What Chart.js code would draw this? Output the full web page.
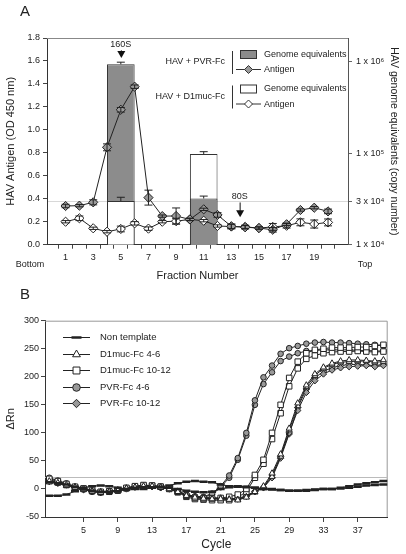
<!DOCTYPE html>
<html lang="en">
<head>
<meta charset="UTF-8">
<title>HAV gradient and real-time PCR</title>
<script src="https://cdn.jsdelivr.net/npm/chart.js"></script>
<style>
  * { margin: 0; padding: 0; box-sizing: border-box; }
  body { background: #fff; width: 406px; height: 554px; overflow: hidden; position: relative; }
  canvas { position: absolute; left: 0; }
  #chartA { top: 0; }
  #chartB { top: 280px; }
</style>
</head>
<body>
<canvas id="chartA" width="406" height="284"></canvas>
<canvas id="chartB" width="406" height="274"></canvas>
<script>
// ---------- Panel A: sucrose gradient fractions ----------
const fractions = [1, 2, 3, 4, 5, 6, 7, 8, 9, 10, 11, 12, 13, 14, 15, 16, 17, 18, 19, 20];
const antigenPVR    = [0.337, 0.34, 0.369, 0.848, 1.175, 1.376, 0.41, 0.249, 0.25, 0.22, 0.308, 0.259, 0.16, 0.152, 0.145, 0.13, 0.178, 0.302, 0.322, 0.29];
const antigenPVRErr = [0.015, 0.01, 0.022, 0.03, 0.02, 0.015, 0.065, 0.01, 0.07, 0.01, 0.01, 0.02, 0.02, 0.015, 0.01, 0.02, 0.01, 0.01, 0.01, 0.02];
const antigenD1     = [0.2, 0.23, 0.143, 0.113, 0.137, 0.186, 0.14, 0.2, 0.205, 0.22, 0.209, 0.163, 0.158, 0.155, 0.145, 0.155, 0.165, 0.195, 0.18, 0.194];
const antigenD1Err  = [0.01, 0.02, 0.01, 0.01, 0.025, 0.015, 0.015, 0.01, 0.025, 0.01, 0.01, 0.01, 0.02, 0.015, 0.01, 0.03, 0.02, 0.03, 0.035, 0.03];

const genomeFractions = [5, 11];
const genomePVR    = [9.4e5, 3.2e4];
const genomePVRErr = [5e4, 2e3];
const genomeD1     = [3.0e4, 9.8e4];
const genomeD1Err  = [3e3, 6e3];

const genomeTicks = [1e4, 3e4, 1e5, 1e6];
const genomeTickLabels = ['1 x 10\u2074', '3 x 10\u2074', '1 x 10\u2075', '1 x 10\u2076'];

// sedimentation markers: label position and arrow tip on the antigen scale
const sedMarkers = [
  { label: '160S', fraction: 5, textAt: 1.745, tip: 1.625 },
  { label: '80S', fraction: 13.6, textAt: 0.42, tip: 0.24 }
];

// ---------- Panel B: real-time PCR ----------
const cycles = [1, 2, 3, 4, 5, 6, 7, 8, 9, 10, 11, 12, 13, 14, 15, 16, 17, 18, 19, 20,
  21, 22, 23, 24, 25, 26, 27, 28, 29, 30, 31, 32, 33, 34, 35, 36, 37, 38, 39, 40];
const cycleTicks = [5, 9, 13, 17, 21, 25, 29, 33, 37];
const threshold = 22;

const nonTemplate1 = [-12, -12, -10, -4, 2, 5, 6, 5, 2, 0, 0, 0, 2, 4, 6, 10, 13, 14, 13, 12,
  8, 5, 5, 4, 2, 0, 0, -2, -3, -3, -3, -2, 0, 0, 2, 5, 8, 10, 12, 14];
const nonTemplate2 = [12, 10, 8, 4, 0, -3, -5, -5, -4, -1, 2, 3, 3, 3, 2, 0, -3, -5, -6, -5,
  0, 3, 4, 3, 2, 0, -1, -2, -3, -3, -2, -1, 0, 0, 1, 2, 4, 6, 7, 8];
const d1muc46a = [14, 11, 7, 3, 0, -4, -6, -5, -3, 1, 3, 5, 5, 3, 0, -5, -12, -15, -17, -18,
  -18, -19, -20, -15, -5, 5, 28, 62, 108, 153, 185, 205, 217, 224, 228, 230, 230, 229, 228, 230];
const d1muc46b = [12, 10, 6, 2, -1, -4, -5, -4, -2, 1, 3, 4, 4, 3, 0, -5, -11, -14, -16, -17,
  -17, -18, -19, -14, -6, 3, 22, 58, 105, 148, 182, 202, 215, 222, 226, 227, 228, 228, 226, 227];
const d1muc1012a = [18, 14, 9, 4, 1, -3, -5, -4, -2, 2, 5, 7, 6, 4, 1, -5, -12, -16, -17, -17,
  -16, -14, -10, 0, 25, 52, 100, 150, 198, 227, 242, 248, 250, 252, 252, 252, 253, 253, 255, 257];
const d1muc1012b = [15, 12, 7, 3, 0, -4, -6, -5, -3, 1, 4, 6, 6, 4, 0, -6, -14, -18, -19, -20,
  -20, -20, -15, -5, 20, 45, 89, 135, 183, 215, 232, 238, 242, 244, 245, 245, 246, 245, 244, 245];
const pvr46a = [20, 15, 10, 4, 0, -4, -6, -5, -3, 1, 4, 6, 6, 4, 1, -4, -10, -13, -14, -8,
  5, 24, 55, 100, 158, 199, 220, 241, 251, 255, 259, 261, 262, 261, 261, 260, 259, 258, 257, 256];
const pvr46b = [16, 12, 8, 3, -1, -5, -6, -4, -2, 2, 5, 6, 5, 3, 0, -5, -11, -14, -15, -10,
  3, 20, 52, 95, 150, 187, 208, 228, 236, 242, 246, 247, 248, 248, 248, 248, 247, 247, 246, 246];
const pvr1012a = [16, 12, 8, 4, 0, -3, -5, -5, -3, 0, 3, 5, 5, 3, 1, -4, -10, -13, -15, -16,
  -16, -17, -17, -12, -4, 3, 25, 58, 100, 140, 172, 193, 205, 212, 216, 218, 219, 220, 218, 220];
const pvr1012b = [13, 10, 7, 3, -1, -4, -6, -5, -2, 1, 4, 5, 4, 2, 0, -5, -11, -14, -16, -17,
  -17, -18, -18, -13, -5, 2, 20, 55, 98, 145, 178, 198, 210, 216, 220, 222, 222, 221, 220, 222];

const FONT = "'Liberation Sans', Arial, sans-serif";
Chart.defaults.font.family = FONT;
Chart.defaults.color = '#222';

// error bars for datasets that carry an `errors` array
const errorBars = {
  id: 'errorBars',
  afterDatasetsDraw(chart) {
    const ctx = chart.ctx;
    ctx.save();
    ctx.strokeStyle = '#222';
    ctx.lineWidth = 1;
    chart.data.datasets.forEach((ds, i) => {
      if (!ds.errors) return;
      const ys = chart.scales[ds.yAxisID];
      chart.getDatasetMeta(i).data.forEach((el, j) => {
        const e = ds.errors[j];
        if (e == null) return;
        const v = ds.data[j].y;
        const top = ys.getPixelForValue(v + e);
        const bot = ds.upperOnly ? el.y : ys.getPixelForValue(v - e);
        ctx.beginPath();
        ctx.moveTo(el.x, top); ctx.lineTo(el.x, bot);
        ctx.moveTo(el.x - 4, top); ctx.lineTo(el.x + 4, top);
        if (!ds.upperOnly) { ctx.moveTo(el.x - 4, bot); ctx.lineTo(el.x + 4, bot); }
        ctx.stroke();
      });
    });
    ctx.restore();
  }
};

// frame line on top of panel A plus texts around it
const decorA = {
  id: 'decorA',
  beforeDatasetsDraw(chart) {
    const { ctx, chartArea: a } = chart;
    ctx.save();
    ctx.strokeStyle = '#888';
    ctx.lineWidth = 1;
    ctx.beginPath();
    ctx.moveTo(a.left, a.top + 0.5); ctx.lineTo(a.right, a.top + 0.5);
    ctx.stroke();
    ctx.restore();
  },
  afterDraw(chart) {
    const { ctx, chartArea: a, scales } = chart;
    ctx.save();
    ctx.fillStyle = '#222';
    ctx.font = '15px ' + FONT;
    ctx.textBaseline = 'middle';
    ctx.fillText('A', 20, 12);
    ctx.font = '9px ' + FONT;
    ctx.textAlign = 'center';
    ctx.fillText('Bottom', 30, 265);
    ctx.fillText('Top', 365, 265);

    // sedimentation markers
    sedMarkers.forEach(m => {
      const x = scales.x.getPixelForValue(m.fraction);
      const ty = scales.y.getPixelForValue(m.textAt);
      const tip = scales.y.getPixelForValue(m.tip);
      ctx.fillStyle = '#222';
      ctx.fillText(m.label, x, ty);
      ctx.strokeStyle = '#111';
      ctx.beginPath();
      ctx.moveTo(x + 0.5, ty + 6); ctx.lineTo(x + 0.5, tip - 6);
      ctx.stroke();
      ctx.fillStyle = '#111';
      ctx.beginPath();
      ctx.moveTo(x - 3.5, tip - 7); ctx.lineTo(x + 4.5, tip - 7); ctx.lineTo(x + 0.5, tip);
      ctx.closePath();
      ctx.fill();
    });

    // legend
    const groups = [
      { title: 'HAV + PVR-Fc', fill: '#8c8c8c', mark: '#9a9a9a' },
      { title: 'HAV + D1muc-Fc', fill: '#ffffff', mark: '#ffffff' }
    ];
    groups.forEach((g, k) => {
      const y0 = a.top + k * 34.5;
      ctx.textAlign = 'right';
      ctx.fillStyle = '#222';
      ctx.fillText(g.title, 225, y0 + 24);
      ctx.strokeStyle = '#333';
      ctx.beginPath();
      ctx.moveTo(232.5, y0 + 13); ctx.lineTo(232.5, y0 + 36);
      ctx.stroke();
      ctx.fillStyle = g.fill;
      ctx.fillRect(240, y0 + 12, 16, 8);
      ctx.strokeRect(240.5, y0 + 12.5, 16, 8);
      ctx.beginPath();
      ctx.moveTo(236, y0 + 31.5); ctx.lineTo(261, y0 + 31.5);
      ctx.stroke();
      ctx.fillStyle = g.mark;
      ctx.beginPath();
      ctx.moveTo(248.5, y0 + 27.5); ctx.lineTo(252.5, y0 + 31.5);
      ctx.lineTo(248.5, y0 + 35.5); ctx.lineTo(244.5, y0 + 31.5);
      ctx.closePath();
      ctx.fill(); ctx.stroke();
      ctx.textAlign = 'left';
      ctx.fillStyle = '#222';
      ctx.fillText('Genome equivalents', 264, y0 + 16.5);
      ctx.fillText('Antigen', 264, y0 + 32);
    });
    ctx.restore();
  }
};

// bars overlap at each fraction: the taller one is drawn behind
const backBars = [], frontBars = [], backColors = [], frontColors = [], backErr = [], frontErr = [];
genomeFractions.forEach((f, i) => {
  const pvrTall = genomePVR[i] > genomeD1[i];
  backBars.push({ x: f, y: pvrTall ? genomePVR[i] : genomeD1[i] });
  frontBars.push({ x: f, y: pvrTall ? genomeD1[i] : genomePVR[i] });
  backErr.push(pvrTall ? genomePVRErr[i] : genomeD1Err[i]);
  frontErr.push(pvrTall ? genomeD1Err[i] : genomePVRErr[i]);
  backColors.push(pvrTall ? '#8c8c8c' : '#ffffff');
  frontColors.push(pvrTall ? '#ffffff' : '#8c8c8c');
});

const barStyle = { type: 'bar', yAxisID: 'y1', grouped: false, borderColor: '#333', borderWidth: 1,
  categoryPercentage: 2, barPercentage: 1, upperOnly: true };
const lineStyle = { type: 'line', yAxisID: 'y', borderColor: '#222', borderWidth: 1, tension: 0,
  pointStyle: 'rectRot', pointRadius: 4.6, pointBorderColor: '#222', pointBorderWidth: 1 };

new Chart(document.getElementById('chartA'), {
  type: 'bar',
  data: {
    datasets: [
      Object.assign({}, lineStyle, { label: 'Antigen PVR-Fc', order: 1, pointBackgroundColor: '#9a9a9a',
        data: fractions.map((f, i) => ({ x: f, y: antigenPVR[i] })), errors: antigenPVRErr }),
      Object.assign({}, lineStyle, { label: 'Antigen D1muc-Fc', order: 2, pointBackgroundColor: '#ffffff',
        data: fractions.map((f, i) => ({ x: f, y: antigenD1[i] })), errors: antigenD1Err }),
      Object.assign({}, barStyle, { label: 'Genome (front)', order: 3, backgroundColor: frontColors,
        data: frontBars, errors: frontErr }),
      Object.assign({}, barStyle, { label: 'Genome (back)', order: 4, backgroundColor: backColors,
        data: backBars, errors: backErr })
    ]
  },
  options: {
    responsive: false,
    animation: false,
    layout: { padding: { top: 38 } },
    plugins: { legend: { display: false }, tooltip: { enabled: false } },
    scales: {
      x: {
        type: 'linear', min: 0.2, max: 20.9,
        afterBuildTicks: s => { s.ticks = fractions.map(v => ({ value: v })); },
        afterFit: s => { s.height = 39.3; },
        grid: { drawOnChartArea: false, tickLength: 4, tickColor: '#444' },
        border: { color: '#333' },
        ticks: { autoSkip: false, maxRotation: 0, padding: 3, font: { size: 9 },
          callback: v => (v % 2 === 1 ? v : '') },
        title: { display: true, text: 'Fraction Number', font: { size: 11 }, padding: { top: 0, bottom: 1 } }
      },
      y: {
        position: 'left', min: 0, max: 1.8,
        afterFit: s => { s.width = 47; },
        grid: { drawOnChartArea: false, tickLength: 4, tickColor: '#444' },
        border: { color: '#333' },
        ticks: { stepSize: 0.2, font: { size: 9 }, padding: 3, callback: v => v.toFixed(1) },
        title: { display: true, text: 'HAV Antigen (OD 450 nm)', font: { size: 11 }, padding: { top: 4 } }
      },
      y1: {
        type: 'logarithmic', position: 'right', min: 1e4, max: 1.82e6,
        afterFit: s => { s.width = 58; },
        afterBuildTicks: s => { s.ticks = genomeTicks.map(v => ({ value: v })); },
        grid: { drawOnChartArea: true, tickLength: 4, tickColor: '#666',
          color: c => (c.tick && c.tick.value === 3e4 ? '#d8d8d8' : 'rgba(0,0,0,0)') },
        border: { color: '#555' },
        ticks: { font: { size: 9 }, padding: 4, callback: (v, i) => genomeTickLabels[i] },
        title: { display: true, text: 'HAV genome equivalents (copy number)', font: { size: 10.5 }, padding: { top: 6 } }
      }
    }
  },
  plugins: [decorA, errorBars]
});

// ---------- Panel B chart ----------
const seriesB = [
  { label: 'Non template', runs: [nonTemplate1, nonTemplate2], pointStyle: 'line', fill: '#111', radius: 4, pbw: 2.5 },
  { label: 'D1muc-Fc 4-6', runs: [d1muc46a, d1muc46b], pointStyle: 'triangle', fill: '#fff', radius: 3.5, pbw: 1 },
  { label: 'D1muc-Fc 10-12', runs: [d1muc1012a, d1muc1012b], pointStyle: 'rect', fill: '#fff', radius: 3.9, pbw: 1 },
  { label: 'PVR-Fc 4-6', runs: [pvr46a, pvr46b], pointStyle: 'circle', fill: '#999', radius: 2.8, pbw: 1 },
  { label: 'PVR-Fc 10-12', runs: [pvr1012a, pvr1012b], pointStyle: 'rectRot', fill: '#999', radius: 3.2, pbw: 1 }
];

const datasetsB = [];
seriesB.forEach(s => {
  s.runs.forEach(run => {
    datasetsB.push({
      label: s.label,
      data: cycles.map((c, i) => ({ x: c, y: run[i] })),
      borderColor: '#222', borderWidth: 1, tension: 0,
      pointStyle: s.pointStyle, pointRadius: s.radius,
      pointBackgroundColor: s.fill, pointBorderColor: '#222', pointBorderWidth: s.pbw
    });
  });
});

const decorB = {
  id: 'decorB',
  beforeDatasetsDraw(chart) {
    const { ctx, chartArea: a, scales } = chart;
    ctx.save();
    ctx.strokeStyle = '#999';
    ctx.lineWidth = 1;
    ctx.beginPath();
    ctx.moveTo(a.left, a.top + 0.5); ctx.lineTo(a.right - 0.5, a.top + 0.5); ctx.lineTo(a.right - 0.5, a.bottom);
    ctx.stroke();
    const ty = Math.round(scales.y.getPixelForValue(threshold)) + 0.5;
    ctx.strokeStyle = '#bbb';
    ctx.beginPath();
    ctx.moveTo(a.left, ty); ctx.lineTo(a.right, ty);
    ctx.stroke();
    ctx.restore();
  },
  afterDraw(chart) {
    const { ctx } = chart;
    ctx.save();
    ctx.fillStyle = '#222';
    ctx.font = '15px ' + FONT;
    ctx.textBaseline = 'middle';
    ctx.fillText('B', 20, 15);
    ctx.font = '9.5px ' + FONT;
    seriesB.forEach((s, k) => {
      const y = Math.round(57.3 + k * 16.5) + 0.5;
      ctx.strokeStyle = '#222';
      ctx.lineWidth = 1;
      ctx.beginPath();
      ctx.moveTo(63, y); ctx.lineTo(90, y);
      ctx.stroke();
      ctx.fillStyle = s.fill;
      ctx.lineWidth = s.pbw;
      Chart.helpers.drawPoint(ctx, { pointStyle: s.pointStyle, radius: s.radius + 1, borderWidth: s.pbw }, 76.5, y);
      ctx.fillStyle = '#222';
      ctx.fillText(s.label, 100, y);
    });
    ctx.restore();
  }
};

new Chart(document.getElementById('chartB'), {
  type: 'line',
  data: { datasets: datasetsB },
  options: {
    responsive: false,
    animation: false,
    layout: { padding: { top: 40.7, right: 18.3 } },
    plugins: { legend: { display: false }, tooltip: { enabled: false } },
    scales: {
      x: {
        type: 'linear', min: 0.5, max: 40.5,
        afterBuildTicks: s => { s.ticks = cycleTicks.map(v => ({ value: v })); },
        afterFit: s => { s.height = 37; },
        grid: { drawOnChartArea: false, tickLength: 5, tickColor: '#444' },
        border: { color: '#333' },
        ticks: { autoSkip: false, maxRotation: 0, padding: 3, font: { size: 9 } },
        title: { display: true, text: 'Cycle', font: { size: 12 }, padding: { top: 0, bottom: 2 } }
      },
      y: {
        min: -50, max: 300,
        afterFit: s => { s.width = 45; },
        grid: { drawOnChartArea: false, tickLength: 4, tickColor: '#444' },
        border: { color: '#333' },
        ticks: { stepSize: 50, font: { size: 9 }, padding: 2 },
        title: { display: true, text: '\u0394Rn', font: { size: 11 }, padding: { top: 4 } }
      }
    }
  },
  plugins: [decorB]
});
</script>
</body>
</html>
